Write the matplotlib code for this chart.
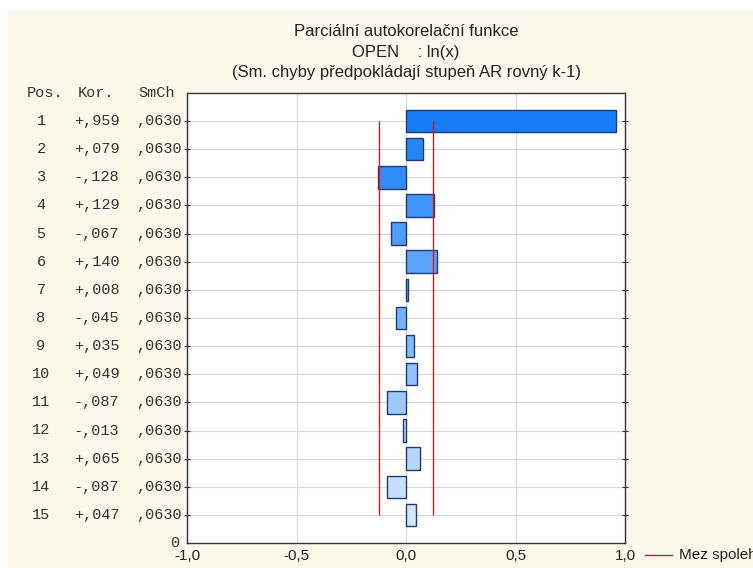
import matplotlib
matplotlib.use("Agg")
import matplotlib.pyplot as plt
import matplotlib.transforms as mtransforms
from matplotlib.patches import Rectangle
import numpy as np

lags = [1, 2, 3, 4, 5, 6, 7, 8, 9, 10, 11, 12, 13, 14, 15]
pacf = [0.959, 0.079, -0.128, 0.129, -0.067, 0.140, 0.008, -0.045,
        0.035, 0.049, -0.087, -0.013, 0.065, -0.087, 0.047]
se = [0.0630] * 15
z = 1.96
xticks = [-1.0, -0.5, 0.0, 0.5, 1.0]
xticklabels = ["-1,0", "-0,5", "0,0", "0,5", "1,0"]
title_lines = ["Parciální autokorelační funkce", "OPEN    : ln(x)",
               "(Sm. chyby předpokládají stupeň AR rovný k-1)"]
legend_label = "Mez spolehlivosti"

W, H = 753, 568
fig = plt.figure(figsize=(W / 100, H / 100), dpi=100, facecolor="white")
fig.patches.append(Rectangle((8 / W, 0), 1, 1 - 10 / H, transform=fig.transFigure,
                             facecolor="#fdf8ec", edgecolor="none", zorder=-10))

L, R, T, B = 187, 625, 93, 543
ax = fig.add_axes([L / W, 1 - B / H, (R - L) / W, (B - T) / H])
ax.set_facecolor("white")

n = len(lags)
c0 = np.array([24, 126, 248]) / 255
c1 = np.array([210, 231, 251]) / 255
colors = [tuple(c0 + (c1 - c0) * i / (n - 1)) for i in range(n)]

ax.barh(lags, pacf, height=0.8, color=colors, edgecolor="#1f3a78", linewidth=1.0, zorder=3)

lim = [z * s for s in se]
ax.vlines([-lim[0], lim[0]], lags[0], lags[-1], colors="#c8202a", linewidth=1.0, zorder=4)

ax.set_xlim(-1, 1)
ax.set_ylim(n + 1, 0)
ax.set_xticks(xticks)
ax.set_xticklabels(xticklabels, fontsize=11, family="Liberation Sans", color="#222222")
ax.set_yticks(lags)
ax.set_yticklabels([])
ax.tick_params(axis="y", direction="inout", length=5, width=0.8, right=True, color="#333333")
ax.tick_params(axis="x", direction="in", length=0, pad=4)
ax.grid(True, color="#d9d9d9", linewidth=0.8, zorder=0)
for sp in ax.spines.values():
    sp.set_color("#333333")
    sp.set_linewidth(1.0)

tr = mtransforms.blended_transform_factory(fig.transFigure, ax.transData)
mono = dict(family="Liberation Mono", fontsize=11, color="#333333", transform=tr, va="center")
ax.text(45 / W, 0, "Pos.", ha="center", **mono)
ax.text(96 / W, 0, "Kor.", ha="center", **mono)
ax.text(157 / W, 0, "SmCh", ha="center", **mono)
for k, v, s in zip(lags, pacf, se):
    kor = ("+" if v >= 0 else "-") + "," + f"{abs(v) * 1000:03.0f}"
    smch = "," + f"{s * 10000:04.0f}"
    ax.text(41 / W, k, str(k), ha="center", **mono)
    ax.text(74 / W, k, kor, ha="left", **mono)
    ax.text(136 / W, k, smch, ha="left", **mono)
ax.text(179 / W, n + 1, "0", ha="right", **mono)

for i, line in enumerate(title_lines):
    fig.text(406 / W, 1 - (31 + 21 * i) / H, line, ha="center", va="center",
             fontsize=12, family="Liberation Sans", color="#222222")

fig.lines.append(plt.Line2D([645 / W, 672 / W], [1 - 555 / H] * 2, transform=fig.transFigure,
                            color="#c8202a", linewidth=1.0))
fig.text(679 / W, 1 - 555 / H, legend_label, ha="left", va="center", fontsize=11,
         family="Liberation Sans", color="#222222")

fig.savefig("out.png", dpi=100, facecolor="white")
